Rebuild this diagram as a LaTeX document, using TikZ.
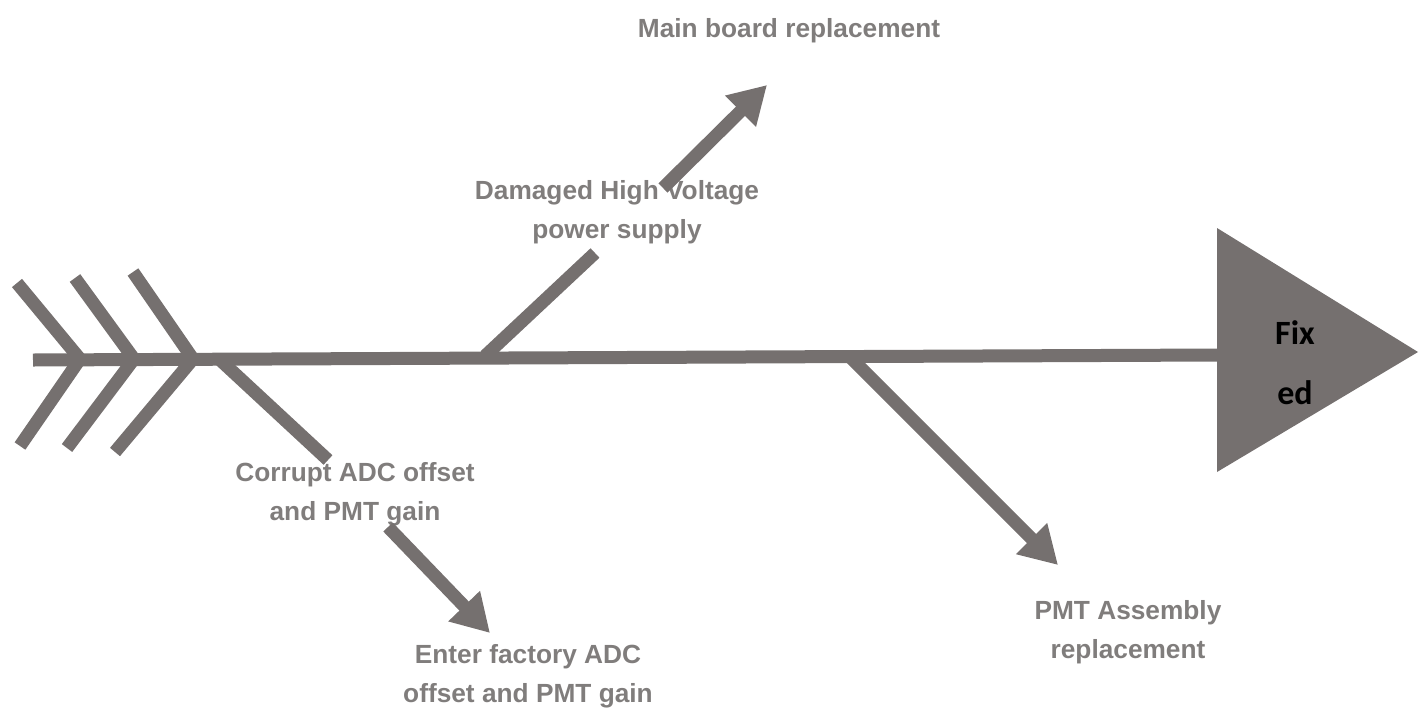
\documentclass[tikz,border=0pt]{standalone}
\usepackage{fontspec}
\setmainfont{Liberation Sans}
\newfontfamily\fixfont{Carlito}
\usetikzlibrary{arrows.meta}
\definecolor{bonegray}{RGB}{117,112,111}
\definecolor{labelgray}{RGB}{128,125,124}
\tikzset{
    %Define standard arrow tip
    >={Triangle[length=28pt,width=31pt]},
    %Define style for the fish bones
    bone/.style={
           draw=bonegray,
           line width=9.75pt,
           line join=miter},
    % Define arrow style
    pfeil/.style={
           bone,
           ->},
    %Define style for the labels
    ursache/.style={
           text=labelgray,
           align=center,
           font=\fontsize{19.7}{29}\selectfont\bfseries},
}
\begin{document}
\begin{tikzpicture}[x=0.75pt, y=-0.75pt]
\useasboundingbox (0,0) rectangle (1426,707);

%spine and head
\coordinate (tail) at (33,360);
\coordinate (kopf) at (1218,355);
\draw [bone] (tail) -- (kopf);
\fill [bonegray] (1217,228) -- (1418,352) -- (1217,472) -- cycle;
\node[font=\fontsize{25.5}{45}\selectfont\fixfont\bfseries, align=center] (fixed) at (1295,363) {Fix\\ed};

%tail fins
\foreach \tx/\ty/\vx/\bx/\by in {17/283/80/20/446, 75/278/134/67/448, 133/272/193/115/452}
    \draw [bone] (\tx,\ty) -- (\vx,359) -- (\bx,\by);

%labels
\node[ursache] (board) at (789,31) {Main board replacement};
\node[ursache] (hv) at (617,212) {Damaged High Voltage\\power supply};
\node[ursache] (adc) at (355,494) {Corrupt ADC offset\\and PMT gain};
\node[ursache] (factory) at (528,676) {Enter factory ADC\\offset and PMT gain};
\node[ursache] (pmt) at (1128,632) {PMT Assembly\\replacement};

%bones
\coordinate (s1) at (218,358);
\coordinate (s2) at (485,356);
\coordinate (s3) at (848,355);
\coordinate (e1) at (328,460);
\coordinate (e2) at (595,253);
\coordinate (e3) at (1058,565);
\draw [bone] (s1) -- (e1);
\draw [bone] (s2) -- (e2);
\draw [pfeil] (s3) -- (e3);

%arrows to the fixes
\coordinate (a1) at (663,188);
\coordinate (t1) at (767,85);
\coordinate (a2) at (388,527);
\coordinate (t2) at (490,633);
\draw [pfeil] (a1) -- (t1);
\draw [pfeil] (a2) -- (t2);

\end{tikzpicture}
\end{document}
